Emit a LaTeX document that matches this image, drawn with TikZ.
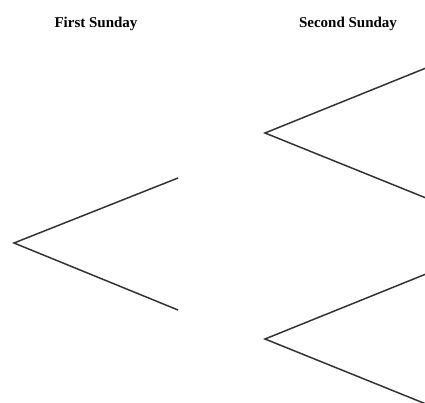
\documentclass[tikz,border=0pt]{standalone}
\usepackage{fontspec}
\setmainfont{Liberation Serif}
\begin{document}
\begin{tikzpicture}[x=1pt,y=-1pt,
  branch/.style={draw=black!80,line width=1.5pt,line join=miter},
  head/.style={font=\bfseries\fontsize{15}{18}\selectfont,inner sep=0pt}]
\useasboundingbox (0,0) rectangle (425,403);
\node[head] (h1) at (96,24) {First Sunday};
\node[head] (h2) at (348,24) {Second Sunday};
% first tree
\coordinate (r) at (14,243);
\coordinate (a) at (178,178);
\coordinate (b) at (178,310);
\draw[branch] (a) -- (r) -- (b);
% second trees
\coordinate (r1) at (265,133);
\coordinate (a1) at (426,68);
\coordinate (b1) at (426,198);
\draw[branch] (a1) -- (r1) -- (b1);
\coordinate (r2) at (265,339);
\coordinate (a2) at (426,274);
\coordinate (b2) at (426,404);
\draw[branch] (a2) -- (r2) -- (b2);
\end{tikzpicture}
\end{document}
